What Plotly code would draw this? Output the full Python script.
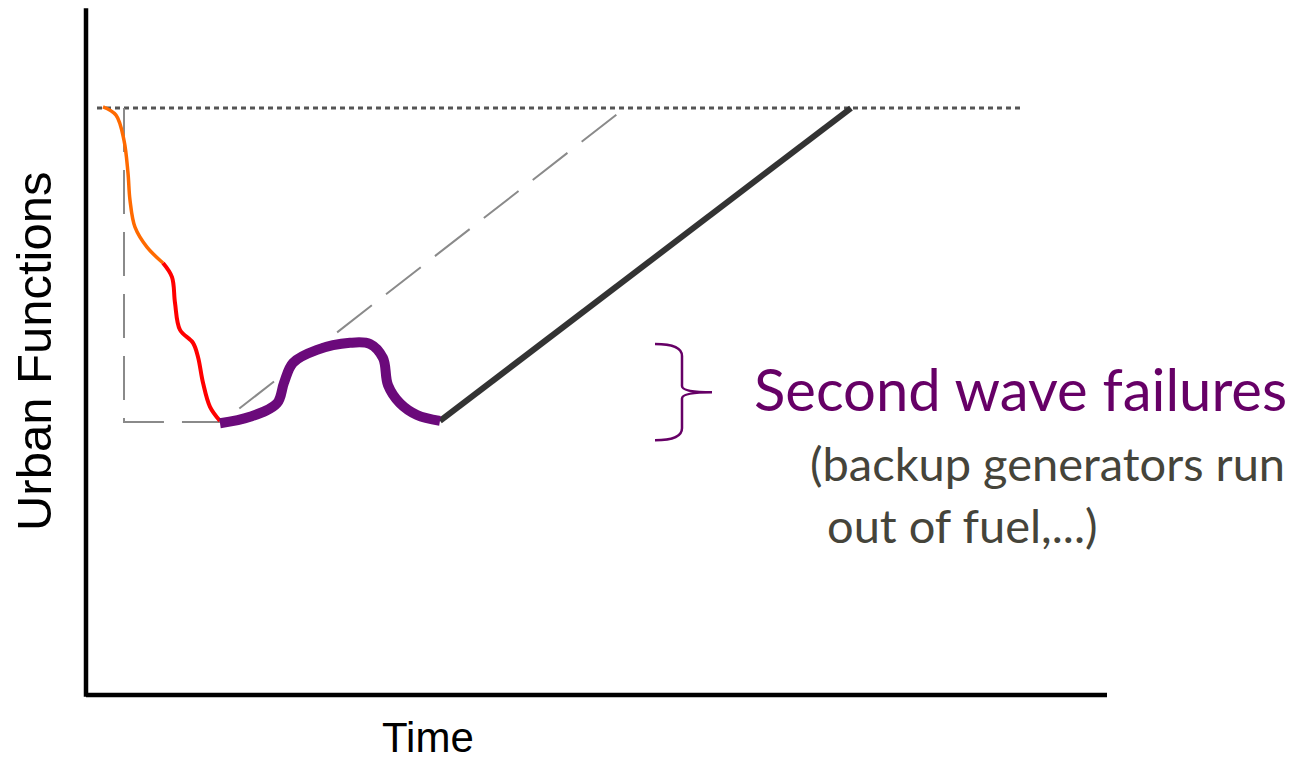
import plotly.graph_objects as go

# ---- data (time units, urban-function level in %) ----
orange_t = [1.7, 3.0, 3.8, 4.2, 4.4, 4.9, 6.1, 7.7]
orange_f = [100.2, 98.8, 94.5, 88.9, 84.3, 79.7, 76.3, 73.6]

red_t = [7.7, 8.6, 8.9, 9.4, 10.7, 11.2, 11.7, 12.4, 13.4]
red_f = [73.6, 71.2, 66.8, 62.2, 60.0, 57.6, 53.2, 49.1, 46.7]

purple_t = [13.4, 16.4, 19.1, 19.8, 20.7, 23.1, 26.4, 28.4, 29.7, 30.2, 31.4, 33.1, 35.4]
purple_f = [46.3, 47.4, 49.7, 53.2, 56.6, 58.8, 60.0, 59.8, 57.4, 52.8, 49.7, 47.7, 46.7]

recovery_t = [35.4, 76.5]
recovery_f = [46.7, 100.0]

ideal_t = [3.8, 3.8, 13.6, 53.9]
ideal_f = [100.0, 46.5, 46.5, 100.0]

baseline_t = [1.1, 93.4]
baseline_f = [100.0, 100.0]

axis_time_end = 102.1
axis_level_top = 117.0

# brace (time position of spine, tip, ends; level top/mid/bottom)
brace_end_t, brace_spine_t, brace_tip_t = 56.9, 59.6, 62.6
brace_top_f, brace_mid_f, brace_bot_f = 59.8, 51.6, 43.4

title_text = "Second wave failures"
sub_line1 = "(backup generators run"
sub_line2 = "out of fuel,...)"
x_title = "Time"
y_title = "Urban Functions"

# ---- figure ----
fig = go.Figure()

fig.add_trace(go.Scatter(x=baseline_t, y=baseline_f, mode="lines",
                         line=dict(color="#555555", width=3, dash="5px,4px"),
                         hoverinfo="skip"))
fig.add_trace(go.Scatter(x=ideal_t, y=ideal_f, mode="lines",
                         line=dict(color="#8a8a8a", width=2, dash="44px,18px"),
                         hoverinfo="skip"))
fig.add_trace(go.Scatter(x=orange_t, y=orange_f, mode="lines",
                         line=dict(color="#FF6A00", width=3.5, shape="spline"),
                         hoverinfo="skip"))
fig.add_trace(go.Scatter(x=red_t, y=red_f, mode="lines",
                         line=dict(color="#FF0000", width=4, shape="spline"),
                         hoverinfo="skip"))
fig.add_trace(go.Scatter(x=recovery_t, y=recovery_f, mode="lines",
                         line=dict(color="#333333", width=6),
                         hoverinfo="skip"))
fig.add_trace(go.Scatter(x=purple_t, y=purple_f, mode="lines",
                         line=dict(color="#6B0A7B", width=10, shape="spline"),
                         hoverinfo="skip"))

# axes lines
fig.add_shape(type="line", x0=0, x1=0, y0=-0.3, y1=axis_level_top,
              line=dict(color="black", width=4.5), layer="above")
fig.add_shape(type="line", x0=0, x1=axis_time_end, y0=0, y1=0,
              line=dict(color="black", width=4.5), layer="above")

# brace path
r_top = (brace_top_f - brace_mid_f) * 0.25
r_tip = (brace_top_f - brace_mid_f) * 0.13
path = (f"M {brace_end_t},{brace_top_f} "
        f"Q {brace_spine_t},{brace_top_f} {brace_spine_t},{brace_top_f - r_top} "
        f"L {brace_spine_t},{brace_mid_f + r_tip} "
        f"Q {brace_spine_t},{brace_mid_f} {brace_tip_t},{brace_mid_f} "
        f"Q {brace_spine_t},{brace_mid_f} {brace_spine_t},{brace_mid_f - r_tip} "
        f"L {brace_spine_t},{brace_bot_f + r_top} "
        f"Q {brace_spine_t},{brace_bot_f} {brace_end_t},{brace_bot_f}")
fig.add_shape(type="path", path=path, line=dict(color="#660066", width=2.5))

# texts
fig.add_annotation(x=66.6, y=52.3, text=title_text, showarrow=False,
                   xanchor="left", yanchor="middle",
                   font=dict(family="Lato", size=58, color="#660066"))
fig.add_annotation(x=72.2, y=39.5, text=sub_line1, showarrow=False,
                   xanchor="left", yanchor="middle",
                   font=dict(family="Lato", size=47, color="#45443A"))
fig.add_annotation(x=73.9, y=29.0, text=sub_line2, showarrow=False,
                   xanchor="left", yanchor="middle",
                   font=dict(family="Lato", size=47, color="#45443A"))
fig.add_annotation(x=-5.2, y=58.6, text=y_title, showarrow=False, textangle=-90,
                   xanchor="center", yanchor="middle",
                   font=dict(family="Liberation Sans", size=49, color="black"))
fig.add_annotation(x=34.2, y=-7.3, text=x_title, showarrow=False,
                   xanchor="center", yanchor="middle",
                   font=dict(family="Liberation Sans", size=42, color="black"))

# page body has an 8px margin, so the figure is 8px smaller and ranges offset
fig.update_layout(
    width=1299, height=757,
    margin=dict(l=0, r=0, t=0, b=0),
    paper_bgcolor="white", plot_bgcolor="white",
    showlegend=False,
    xaxis=dict(range=[-7.8, 122.1], visible=False, fixedrange=True),
    yaxis=dict(range=[-11.92, 117.04], visible=False, fixedrange=True),
)

fig.write_html("out.html")
